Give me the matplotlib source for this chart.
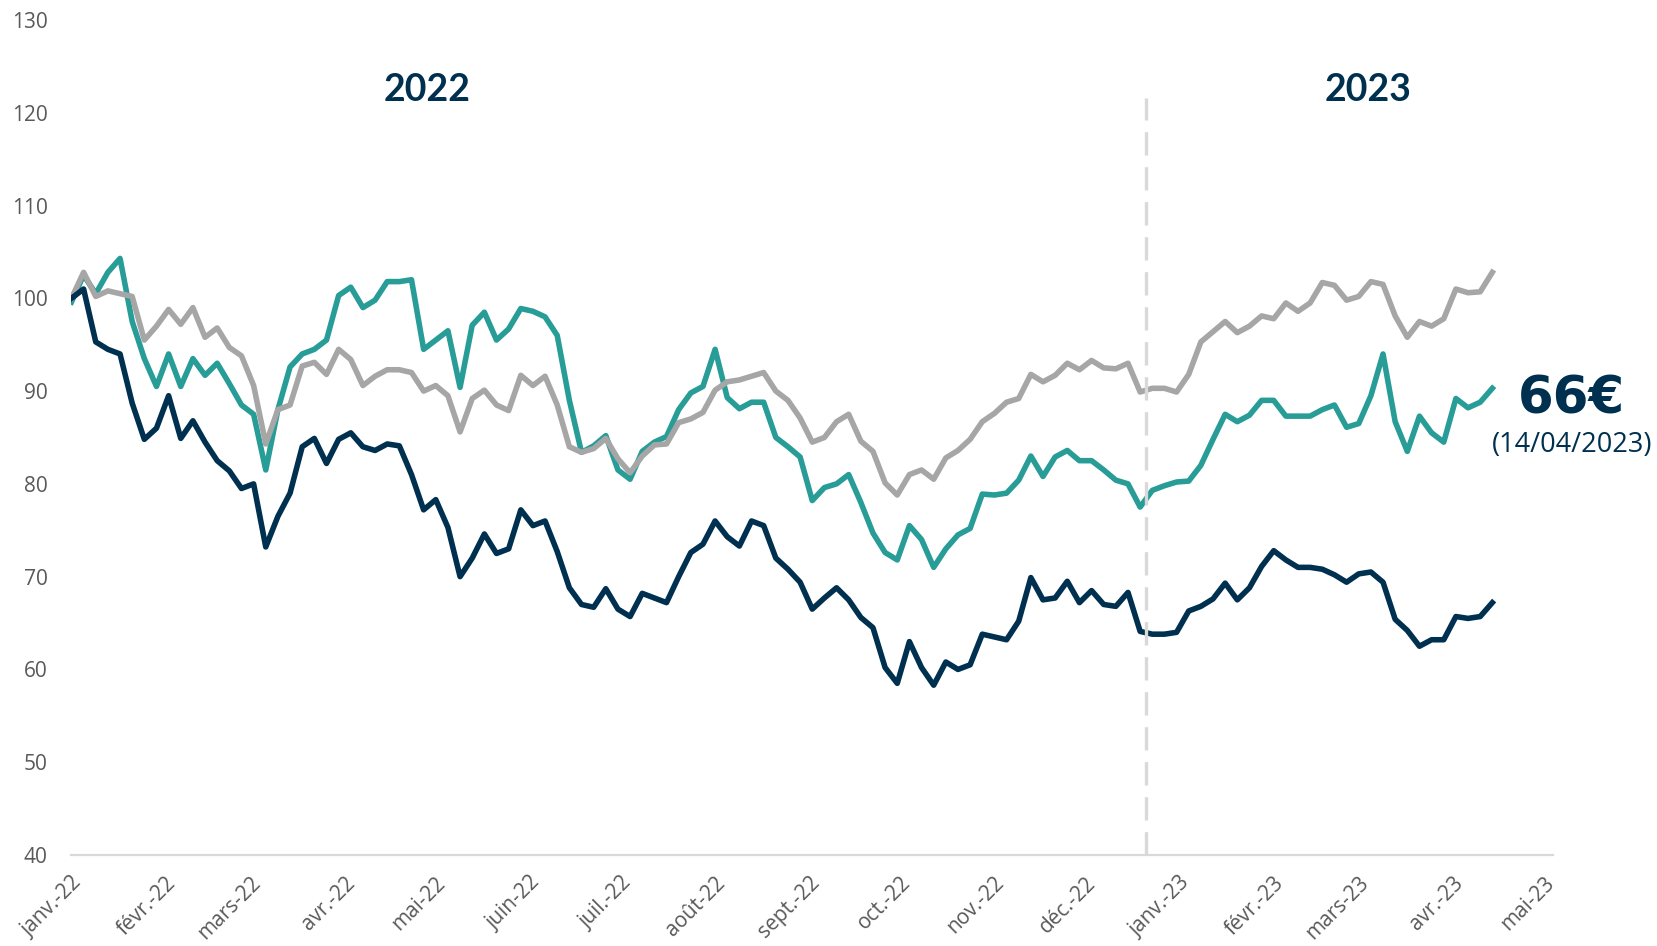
import pandas as pd
import matplotlib
matplotlib.use("Agg")
import matplotlib.pyplot as plt
from matplotlib.transforms import ScaledTranslation

plt.rcParams['font.family'] = ['Open Sans', 'DejaVu Sans']

# base 100 au 01/01/2022, un point tous les 4 jours jusqu'au 14/04/2023
dates = pd.date_range("2022-01-01", "2023-04-14", freq="4D")

action = [100.0, 101.0, 95.3, 94.5, 94.0, 88.7, 84.8, 86.0, 89.5, 84.9,
          86.8, 84.5, 82.5, 81.4, 79.5, 80.0, 73.2, 76.5, 79.0, 84.0,
          84.9, 82.2, 84.8, 85.5, 84.0, 83.6, 84.3, 84.1, 81.0, 77.2,
          78.3, 75.3, 70.0, 72.0, 74.6, 72.5, 73.0, 77.2, 75.5, 76.0,
          72.7, 68.8, 67.0, 66.7, 68.7, 66.5, 65.7, 68.2, 67.7, 67.2,
          70.0, 72.6, 73.5, 76.0, 74.3, 73.3, 76.0, 75.5, 72.0, 70.8,
          69.4, 66.5, 67.7, 68.8, 67.5, 65.6, 64.5, 60.2, 58.5, 63.0,
          60.2, 58.3, 60.8, 60.0, 60.5, 63.8, 63.5, 63.2, 65.2, 69.9,
          67.5, 67.7, 69.5, 67.2, 68.5, 67.0, 66.8, 68.3, 64.1, 63.8,
          63.8, 64.0, 66.3, 66.8, 67.6, 69.3, 67.5, 68.8, 71.1, 72.8,
          71.8, 71.0, 71.0, 70.8, 70.2, 69.4, 70.3, 70.5, 69.4, 65.4,
          64.2, 62.5, 63.2, 63.2, 65.7, 65.5, 65.7, 67.2]

indice_1 = [99.6, 102.5, 100.5, 102.8, 104.3, 97.5, 93.5, 90.5, 94.0, 90.5,
            93.5, 91.7, 93.0, 90.8, 88.5, 87.5, 81.5, 88.0, 92.6, 94.0,
            94.5, 95.5, 100.3, 101.2, 99.0, 99.8, 101.8, 101.8, 102.0, 94.5,
            95.5, 96.5, 90.4, 97.1, 98.5, 95.5, 96.7, 98.9, 98.6, 98.0,
            96.0, 89.0, 83.4, 84.1, 85.2, 81.5, 80.5, 83.5, 84.5, 85.1,
            88.0, 89.8, 90.5, 94.5, 89.3, 88.1, 88.8, 88.8, 85.0, 84.0,
            82.9, 78.2, 79.6, 80.0, 81.0, 78.0, 74.7, 72.6, 71.8, 75.5,
            74.0, 71.0, 73.0, 74.5, 75.2, 78.9, 78.8, 79.0, 80.4, 83.0,
            80.8, 82.9, 83.6, 82.5, 82.5, 81.5, 80.4, 80.0, 77.5, 79.3,
            79.8, 80.2, 80.3, 82.0, 84.8, 87.5, 86.7, 87.4, 89.0, 89.0,
            87.3, 87.3, 87.3, 88.0, 88.5, 86.1, 86.5, 89.5, 94.0, 86.7,
            83.5, 87.3, 85.5, 84.5, 89.2, 88.2, 88.8, 90.3]

indice_2 = [100.0, 102.8, 100.2, 100.8, 100.5, 100.2, 95.5, 97.0, 98.8, 97.2,
            99.0, 95.8, 96.8, 94.7, 93.8, 90.6, 84.3, 88.0, 88.5, 92.7,
            93.1, 91.8, 94.5, 93.4, 90.6, 91.6, 92.3, 92.3, 92.0, 90.0,
            90.6, 89.5, 85.6, 89.2, 90.1, 88.5, 87.9, 91.7, 90.6, 91.6,
            88.5, 84.0, 83.4, 83.8, 84.9, 82.7, 81.2, 83.0, 84.2, 84.3,
            86.6, 87.0, 87.7, 90.1, 91.0, 91.2, 91.6, 92.0, 90.0, 89.0,
            87.1, 84.5, 85.0, 86.7, 87.5, 84.6, 83.5, 80.1, 78.8, 81.0,
            81.5, 80.5, 82.8, 83.6, 84.8, 86.7, 87.6, 88.8, 89.2, 91.8,
            91.0, 91.7, 93.0, 92.3, 93.3, 92.5, 92.4, 93.0, 89.9, 90.3,
            90.3, 89.9, 91.8, 95.3, 96.4, 97.5, 96.3, 97.0, 98.1, 97.8,
            99.5, 98.6, 99.5, 101.7, 101.4, 99.8, 100.2, 101.8, 101.5, 98.1,
            95.8, 97.5, 97.0, 97.8, 101.0, 100.6, 100.7, 102.8]

mois = ["janv.-22", "févr.-22", "mars-22", "avr.-22", "mai-22", "juin-22",
        "juil.-22", "août-22", "sept.-22", "oct.-22", "nov.-22", "déc.-22",
        "janv.-23", "févr.-23", "mars-23", "avr.-23", "mai-23"]

bleu = '#00304f'
vert = '#289c97'
gris = '#a6a6a6'

fig = plt.figure(figsize=(16.58, 9.46), dpi=100)
ax = fig.add_axes([0.0431, 0.0962, 0.8936, 0.8827])

ax.plot(dates, indice_1, color=vert, lw=4.0, zorder=2)
ax.plot(dates, indice_2, color=gris, lw=4.0, zorder=3)
ax.plot(dates, action, color=bleu, lw=4.0, zorder=4)

# separation 2022 / 2023
ax.axvline(pd.Timestamp("2022-12-21"), ymin=0, ymax=0.907, color='#d9d9d9',
           lw=2.4, linestyle=(0, (7, 3.5)), zorder=5)

ax.text(pd.Timestamp("2022-04-28"), 122.5, "2022", ha='center', va='center',
        fontsize=27, fontweight='bold', color=bleu, family=['Lato', 'DejaVu Sans'])
ax.text(pd.Timestamp("2023-03-04"), 122.5, "2023", ha='center', va='center',
        fontsize=27, fontweight='bold', color=bleu, family=['Lato', 'DejaVu Sans'])

fig.text(0.948, 0.578, "66€", ha='center', va='center', fontsize=37,
         fontweight='bold', color=bleu, family='DejaVu Sans')
fig.text(0.948, 0.530, "(14/04/2023)", ha='center', va='center',
         fontsize=19.5, color=bleu)

ax.set_xlim(pd.Timestamp("2022-01-01"), pd.Timestamp("2023-05-04"))
ax.set_ylim(40, 130)
ax.set_yticks(range(40, 131, 10))
ax.set_xticks(pd.date_range("2022-01-01", "2023-05-01", freq="MS"))
ax.set_xticklabels(mois, rotation=45, ha='right', va='center',
                   rotation_mode='anchor')

for s in ['top', 'right', 'left']:
    ax.spines[s].set_visible(False)
ax.spines['bottom'].set_color('#d9d9d9')
ax.spines['bottom'].set_linewidth(1.6)

ax.tick_params(axis='both', length=0, labelsize=15, labelcolor='#595959')
ax.tick_params(axis='y', pad=17)
ax.tick_params(axis='x', pad=18)
for lab in ax.get_xticklabels():
    lab.set_transform(lab.get_transform() + ScaledTranslation(5 / 72, 0, fig.dpi_scale_trans))

fig.savefig("out.png", dpi=100)
